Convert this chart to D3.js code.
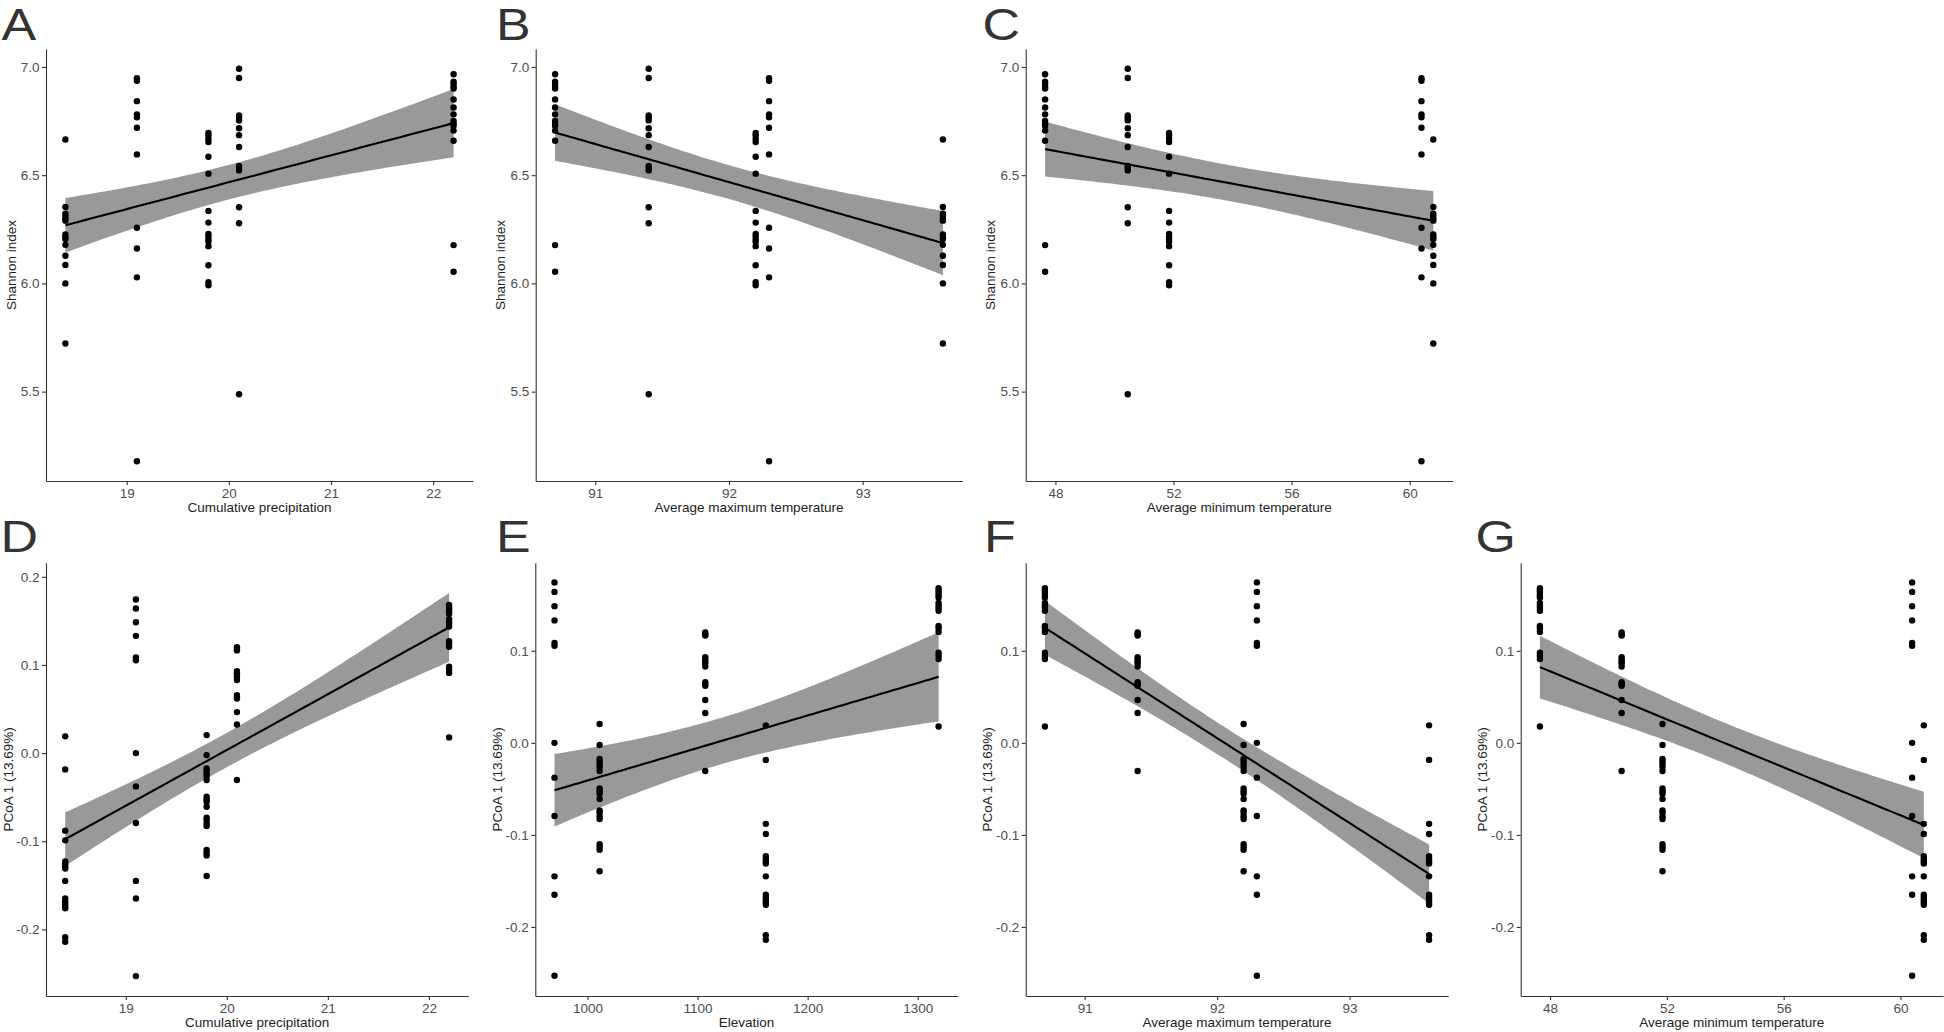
<!DOCTYPE html>
<html>
<head>
<meta charset="utf-8">
<script src="https://cdn.jsdelivr.net/npm/d3@7"></script>
<style>
  html, body { margin: 0; padding: 0; background: #ffffff; }
  svg { display: block; }
  text { font-family: "Liberation Sans", Arial, Helvetica, sans-serif; }
</style>
</head>
<body>
<svg id="chart" width="1944" height="1032"></svg>
<script>
// ---------------- DATA ----------------
// Five sampling sites; each site has one value per environmental variable
const sites = ["S1", "S2", "S3", "S4", "S5"];
const cumulativePrecipitation = [18.4, 19.1, 19.8, 20.1, 22.2];
const averageMaxTemperature   = [93.6, 92.3, 92.2, 91.4, 90.7];
const averageMinTemperature   = [60.8, 60.4, 51.85, 50.45, 47.65];
const elevation               = [1162, 970, 1011, 1107, 1319];

// Shannon index per sample, grouped by site
const shannonS1 = [6.665, 6.353, 6.322, 6.312, 6.300, 6.290, 6.226, 6.214, 6.205, 6.178, 6.128, 6.085, 6.000, 5.722];
const shannonS2 = [6.948, 6.936, 6.842, 6.781, 6.768, 6.719, 6.596, 6.257, 6.161, 6.028, 5.178];
const shannonS3 = [6.695, 6.684, 6.668, 6.653, 6.585, 6.507, 6.335, 6.281, 6.229, 6.217, 6.203, 6.192, 6.172, 6.084, 6.005, 5.991];
const shannonS4 = [6.992, 6.949, 6.776, 6.765, 6.753, 6.717, 6.685, 6.630, 6.543, 6.533, 6.522, 6.352, 6.278, 5.488];
const shannonS5 = [6.966, 6.932, 6.921, 6.909, 6.900, 6.850, 6.813, 6.781, 6.751, 6.739, 6.728, 6.706, 6.659, 6.177, 6.054];

// PCoA axis 1 scores per sample, grouped by site
const pcoaS1 = [0.019, -0.0185, -0.088, -0.099, -0.123, -0.126, -0.1285, -0.131, -0.145, -0.165, -0.168, -0.171, -0.1735, -0.176, -0.209, -0.214];
const pcoaS2 = [0.1743, 0.164, 0.1485, 0.133, 0.1085, 0.1054, 0.0, -0.0378, -0.0794, -0.145, -0.165, -0.253];
const pcoaS3 = [0.0204, -0.0023, -0.0174, -0.0200, -0.0231, -0.0261, -0.0306, -0.0495, -0.0526, -0.0552, -0.0609, -0.0733, -0.0760, -0.0798, -0.0828, -0.1100, -0.1130, -0.1161, -0.1395];
const pcoaS4 = [0.120, 0.1175, 0.1165, 0.093, 0.0905, 0.0885, 0.0865, 0.083, 0.0658, 0.0635, 0.062, 0.0465, 0.0325, -0.0306];
const pcoaS5 = [0.168, 0.1655, 0.163, 0.1605, 0.158, 0.152, 0.149, 0.1465, 0.1435, 0.127, 0.1245, 0.1205, 0.098, 0.0945, 0.091, 0.0178];

// Y-axis limits as drawn in the figure (panel D is stretched by its confidence band)
const shannonAxisRange = [5.087, 7.083];
const pcoaAxisRangeD   = [-0.2756, 0.216];
const pcoaAxisRange    = [-0.275, 0.1957];

// Tick values
const precipitationTicks = [19, 20, 21, 22];
const maxTempTicks       = [91, 92, 93];
const minTempTicks       = [48, 52, 56, 60];
const elevationTicks     = [1000, 1100, 1200, 1300];
const shannonTicks       = [5.5, 6.0, 6.5, 7.0];
const pcoaTicks          = [-0.2, -0.1, 0.0, 0.1, 0.2];

// Labels
const panelLetters = ["A", "B", "C", "D", "E", "F", "G"];
const xTitles = ["Cumulative precipitation", "Average maximum temperature", "Average minimum temperature",
                 "Cumulative precipitation", "Elevation", "Average maximum temperature", "Average minimum temperature"];
const shannonTitle = "Shannon index";
const pcoaTitle = "PCoA 1 (13.69%)";

// ---------------- BUILD ----------------
const shannonBySite = [shannonS1, shannonS2, shannonS3, shannonS4, shannonS5];
const pcoaBySite = [pcoaS1, pcoaS2, pcoaS3, pcoaS4, pcoaS5];

const intFmt = d => String(d);
const dec1 = d => d.toFixed(1);

const panels = [
  { xv: cumulativePrecipitation, xt: precipitationTicks, yv: shannonBySite, yt: shannonTicks, yd: shannonAxisRange, yTitle: shannonTitle,
    rect: { l: 46, r: 473, t: 49, b: 481 }, lx: 1.5, ly: 39.9, yTitleOff: 35 },
  { xv: averageMaxTemperature, xt: maxTempTicks, yv: shannonBySite, yt: shannonTicks, yd: shannonAxisRange, yTitle: shannonTitle,
    rect: { l: 535.7, r: 962.3, t: 49, b: 481 }, lx: 496, ly: 39.9, yTitleOff: 35 },
  { xv: averageMinTemperature, xt: minTempTicks, yv: shannonBySite, yt: shannonTicks, yd: shannonAxisRange, yTitle: shannonTitle,
    rect: { l: 1025.7, r: 1452.7, t: 49, b: 481 }, lx: 982.5, ly: 39.9, yTitleOff: 35 },
  { xv: cumulativePrecipitation, xt: precipitationTicks, yv: pcoaBySite, yt: pcoaTicks, yd: pcoaAxisRangeD, yTitle: pcoaTitle,
    rect: { l: 46, r: 468.3, t: 562.7, b: 996 }, lx: 0.5, ly: 552, yTitleOff: 38 },
  { xv: elevation, xt: elevationTicks, yv: pcoaBySite, yt: pcoaTicks, yd: pcoaAxisRange, yTitle: pcoaTitle,
    rect: { l: 535.3, r: 957.8, t: 562.7, b: 996 }, lx: 496, ly: 552, yTitleOff: 38.5 },
  { xv: averageMaxTemperature, xt: maxTempTicks, yv: pcoaBySite, yt: pcoaTicks, yd: pcoaAxisRange, yTitle: pcoaTitle,
    rect: { l: 1025.7, r: 1448.3, t: 562.7, b: 996 }, lx: 984, ly: 552, yTitleOff: 38.5 },
  { xv: averageMinTemperature, xt: minTempTicks, yv: pcoaBySite, yt: pcoaTicks, yd: pcoaAxisRange, yTitle: pcoaTitle,
    rect: { l: 1520.7, r: 1943, t: 562.7, b: 996 }, lx: 1475.5, ly: 552, yTitleOff: 38.5 }
];

// two-sided 95% t quantile (Cornish-Fisher expansion)
function qt975(df) {
  const z = 1.959963985;
  const z3 = z ** 3, z5 = z ** 5, z7 = z ** 7;
  return z + (z3 + z) / (4 * df) + (5 * z5 + 16 * z3 + 3 * z) / (96 * df * df)
           + (3 * z7 + 19 * z5 + 17 * z3 - 15 * z) / (384 * df ** 3);
}

// ordinary least squares fit with 95% confidence band (as geom_smooth(method = "lm"))
function linearFit(pts) {
  const n = pts.length;
  const xbar = d3.mean(pts, p => p.x), ybar = d3.mean(pts, p => p.y);
  const sxx = d3.sum(pts, p => (p.x - xbar) ** 2);
  const sxy = d3.sum(pts, p => (p.x - xbar) * (p.y - ybar));
  const slope = sxy / sxx, icpt = ybar - slope * xbar;
  const sse = d3.sum(pts, p => (p.y - (icpt + slope * p.x)) ** 2);
  const s = Math.sqrt(sse / (n - 2));
  const t = qt975(n - 2);
  const [x0, x1] = d3.extent(pts, p => p.x);
  const grid = d3.range(81).map(i => x0 + (x1 - x0) * i / 80);
  return grid.map(x => {
    const fit = icpt + slope * x;
    const se = s * Math.sqrt(1 / n + (x - xbar) ** 2 / sxx);
    return { x, fit, lo: fit - t * se, hi: fit + t * se };
  });
}

const svg = d3.select("#chart");
svg.append("rect").attr("width", 1944).attr("height", 1032).attr("fill", "#ffffff");

panels.forEach((p, i) => {
  const pts = [];
  p.yv.forEach((vals, s) => vals.forEach(v => pts.push({ x: p.xv[s], y: v })));
  const band = linearFit(pts);

  const [xmin, xmax] = d3.extent(pts, d => d.x);
  const xr = xmax - xmin;

  const x = d3.scaleLinear().domain([xmin - 0.05 * xr, xmax + 0.05 * xr]).range([p.rect.l, p.rect.r]);
  const y = d3.scaleLinear().domain(p.yd).range([p.rect.b, p.rect.t]);

  const g = svg.append("g");

  // confidence band
  g.append("path")
    .datum(band)
    .attr("fill", "#999999")
    .attr("d", d3.area().x(d => x(d.x)).y0(d => y(d.lo)).y1(d => y(d.hi)));

  // fitted line
  g.append("path")
    .datum(band)
    .attr("fill", "none")
    .attr("stroke", "#000000")
    .attr("stroke-width", 2.1)
    .attr("d", d3.line().x(d => x(d.x)).y(d => y(d.fit)));

  // points
  g.selectAll("circle.pt").data(pts).join("circle")
    .attr("class", "pt")
    .attr("cx", d => x(d.x))
    .attr("cy", d => y(d.y))
    .attr("r", 3.2)
    .attr("fill", "#000000");

  // axes
  const [dx0, dx1] = x.domain();
  const [dy0, dy1] = y.domain();
  const xAxis = d3.axisBottom(x)
    .tickValues(p.xt.filter(v => v >= dx0 && v <= dx1))
    .tickFormat(intFmt).tickSize(4).tickSizeOuter(0).tickPadding(3);
  const yAxis = d3.axisLeft(y)
    .tickValues(p.yt.filter(v => v >= dy0 && v <= dy1))
    .tickFormat(dec1).tickSize(4).tickSizeOuter(0).tickPadding(2.5);

  const gx = g.append("g").attr("transform", `translate(0,${p.rect.b})`).call(xAxis);
  const gy = g.append("g").attr("transform", `translate(${p.rect.l},0)`).call(yAxis);
  [gx, gy].forEach(a => {
    a.select(".domain").attr("stroke", "#333333").attr("stroke-width", 1.1);
    a.selectAll(".tick line").attr("stroke", "#333333").attr("stroke-width", 1.1);
    a.selectAll(".tick text").attr("fill", "#4d4d4d").style("font-size", "13.5px")
      .style("font-family", '"Liberation Sans", Arial, Helvetica, sans-serif');
  });

  // axis titles
  g.append("text")
    .attr("x", (p.rect.l + p.rect.r) / 2)
    .attr("y", p.rect.b + 31)
    .attr("text-anchor", "middle")
    .attr("fill", "#222222")
    .style("font-size", "13.5px")
    .text(xTitles[i]);

  g.append("text")
    .attr("transform", `translate(${p.rect.l - p.yTitleOff},${(p.rect.t + p.rect.b) / 2}) rotate(-90)`)
    .attr("dy", "0.35em")
    .attr("text-anchor", "middle")
    .attr("fill", "#222222")
    .style("font-size", "13.5px")
    .text(p.yTitle);

  // panel letter (wide, light-looking face as in the figure)
  g.append("text")
    .attr("transform", `translate(${p.lx},${p.ly}) scale(1.18,1)`)
    .attr("fill", "#333333")
    .style("font-size", "44px")
    .text(panelLetters[i]);
});
</script>
</body>
</html>
